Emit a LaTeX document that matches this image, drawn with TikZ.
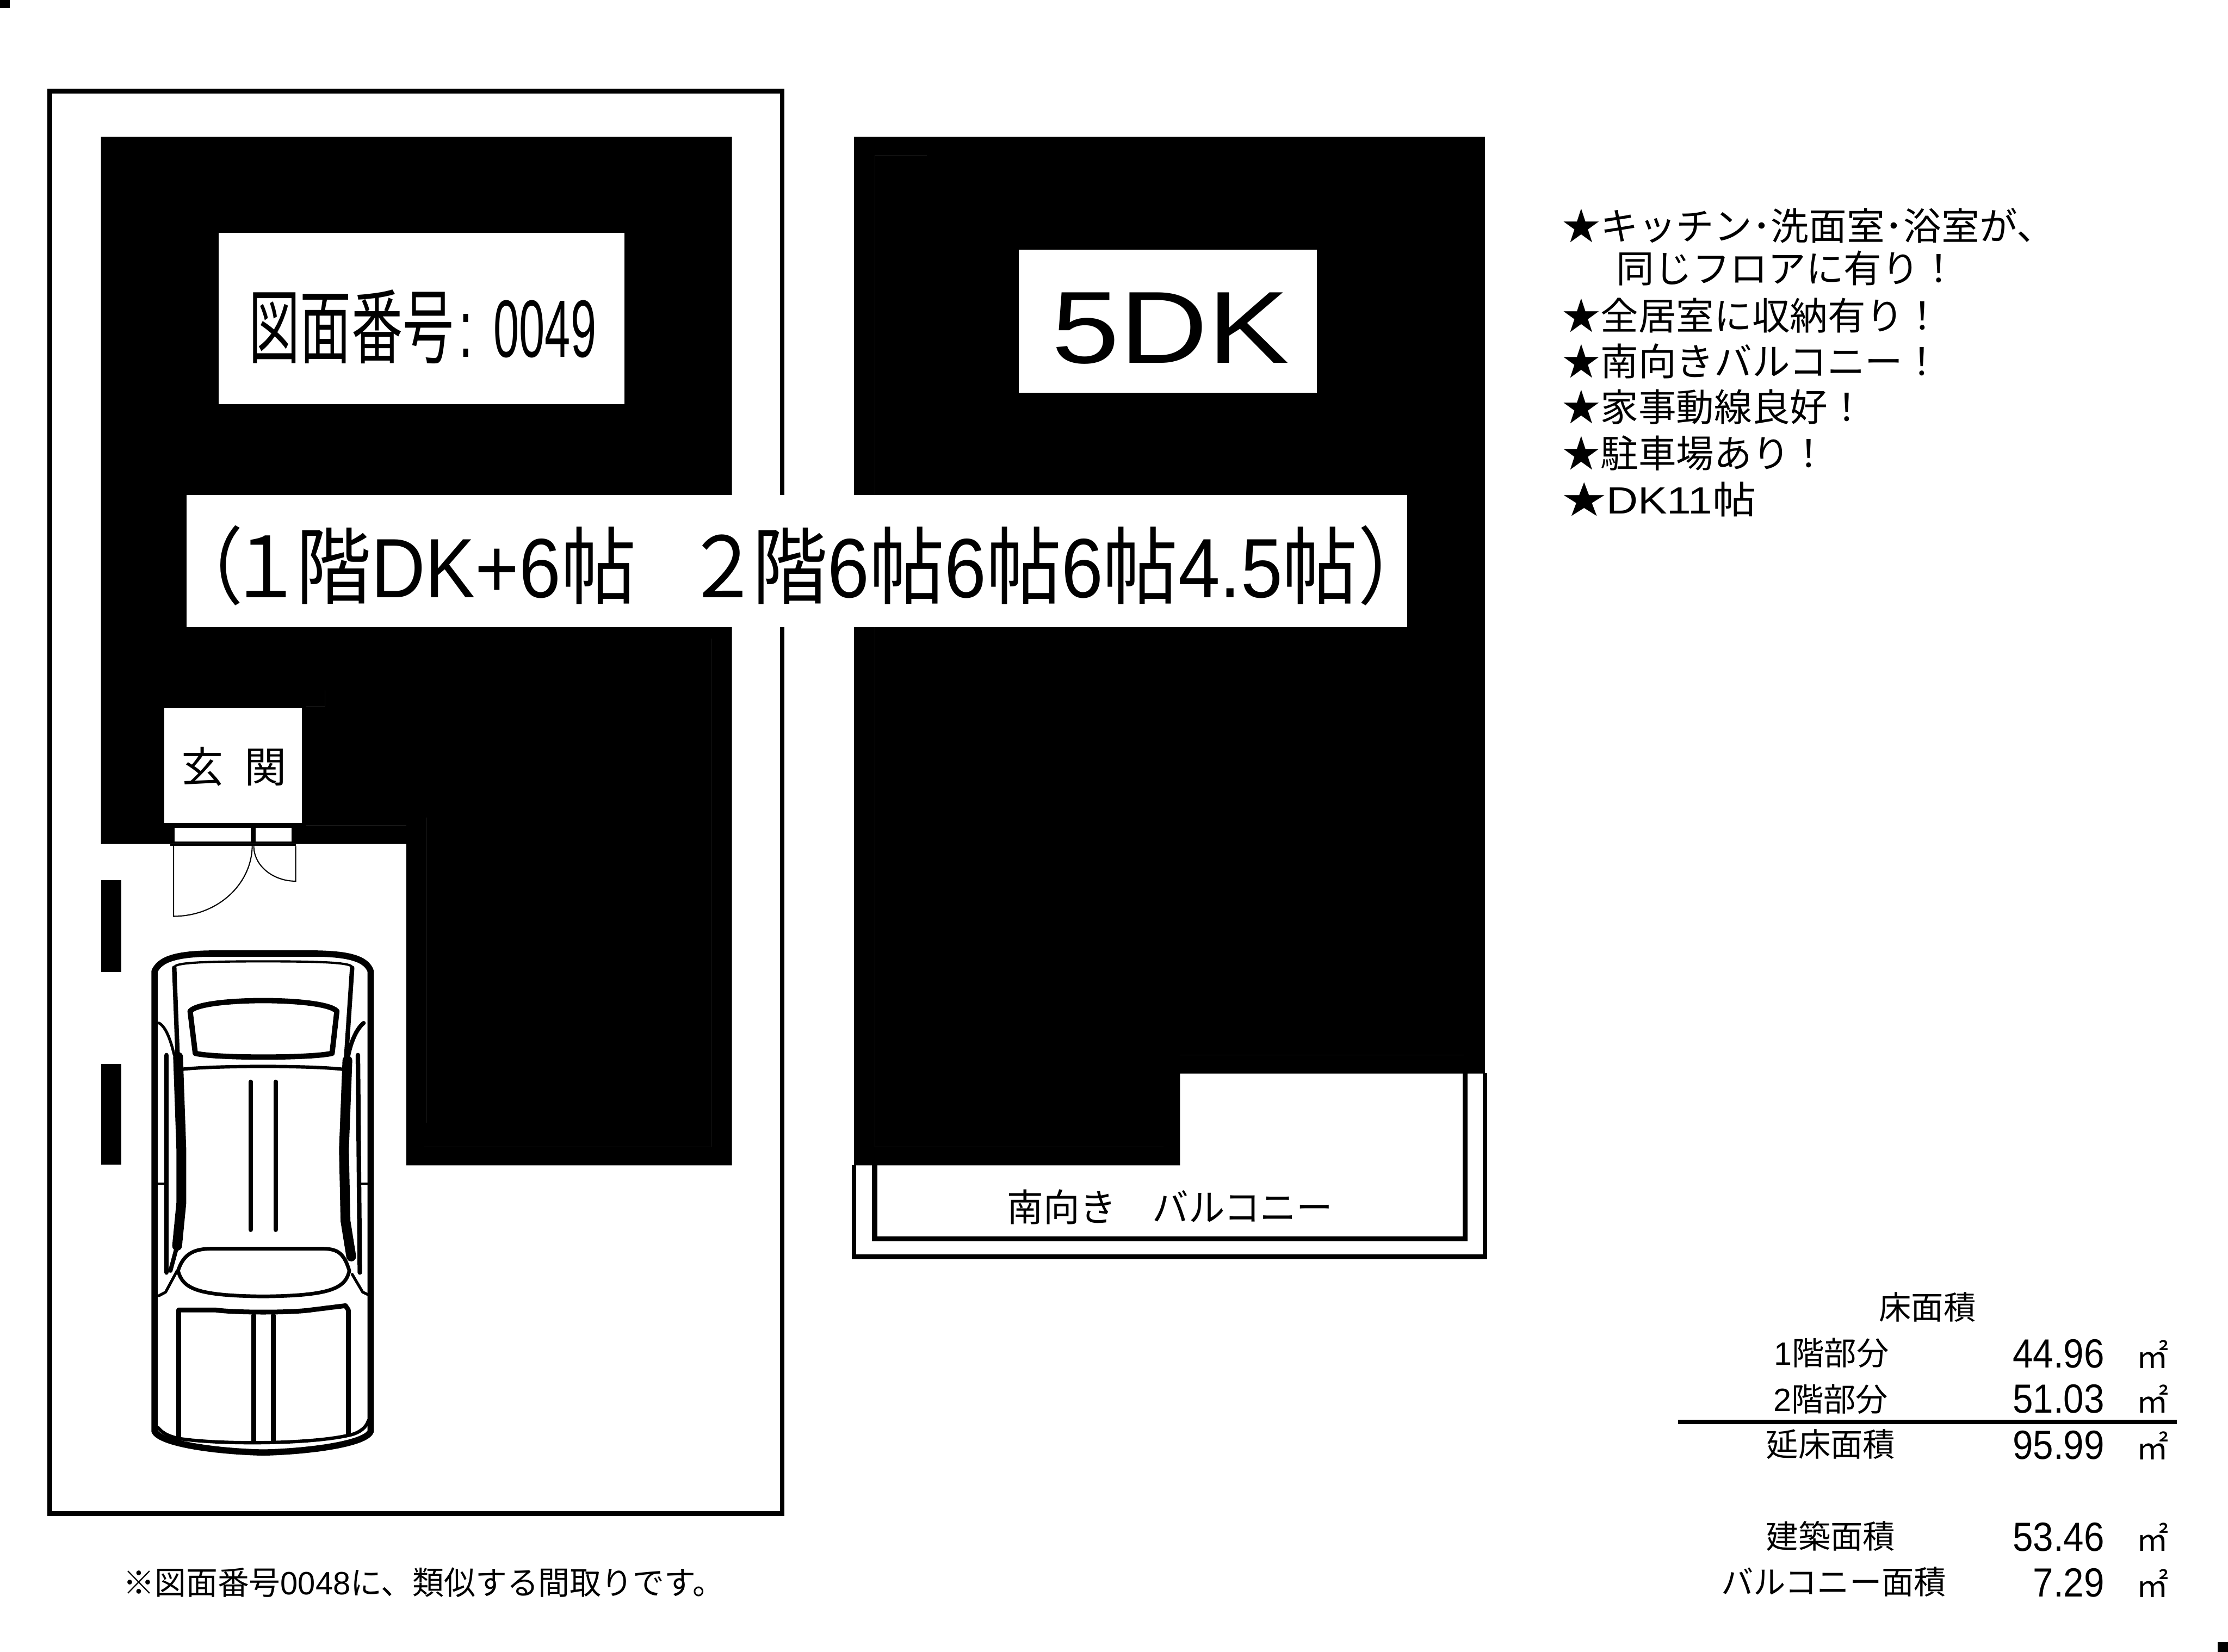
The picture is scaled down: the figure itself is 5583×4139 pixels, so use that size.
\documentclass[tikz,border=0pt]{standalone}
\usepackage{graphicx}
\usepackage{fontspec}
\setmainfont{Liberation Sans}
\newfontfamily\jpfont{Noto Sans CJK JP}
\usetikzlibrary{positioning}
\newcommand{\jp}[1]{{\jpfont #1}}
\newcommand{\fitw}[2]{\resizebox{#1}{\height}{#2}}
\newcommand{\areaval}[1]{\scalebox{0.9}[1]{#1}}

\begin{document}
\begin{tikzpicture}[
    x=0.01cm, y=-0.01cm,
    wall/.style={fill=black},
    hairline/.style={draw=black!90, line width=0.2pt},
    whitebox/.style={rectangle, fill=white, inner sep=0pt, minimum width=#1},
    doorline/.style={draw=black, line width=0.8pt},
    outline/.style={draw=black, line width=3.4pt},
    carline/.style={draw=black, line width=#1pt, line cap=round, line join=round},
    carline/.default=4.5,
    label/.style={inner sep=0pt, anchor=base west, font=\fontsize{#1}{#1}\selectfont},
    note/.style={label=27},
    arealabel/.style={label=23},
    areavalue/.style={inner sep=0pt, anchor=base east, font=\fontsize{29}{29}\selectfont},
    areaunit/.style={inner sep=0pt, anchor=base west, font=\fontsize{23}{23}\selectfont\jpfont},
]
\useasboundingbox (0,0) rectangle (5583,4139);

% Corner marks
\fill[wall] (0,0) rectangle (24,21);
\fill[wall] (5557,4115) rectangle (5583,4139);

% Site outline
\draw[outline] (125,228) rectangle (1960,3793);

% First floor block
\fill[wall] (253,343) -- (1834,343) -- (1834,2920) -- (1018,2920) -- (1018,2115) -- (253,2115) -- cycle;
\fill[wall] (253,2206) rectangle (304,2436);
\fill[wall] (253,2666) rectangle (304,2918);
\draw[hairline] (768,1769) -- (814,1769) -- (814,1730);
\draw[hairline] (768,2068) -- (1018,2068);
\draw[hairline] (1069,2048) -- (1069,2813);
\draw[hairline] (1062,2874) -- (1782,2874) -- (1782,1600);

% Second floor block
\fill[wall] (2140,343) -- (3721,343) -- (3721,2690) -- (2957,2690) -- (2957,2920) -- (2140,2920) -- cycle;
\draw[hairline] (2323,389) -- (2192,389) -- (2192,2874) -- (2916,2874);
\draw[hairline] (2957,2643) -- (3669,2643);

% Balcony
\fill[wall] (2134,2919) rectangle (2145,3156);
\fill[wall] (2134,3143) rectangle (3727,3156);
\fill[wall] (3716,2689) rectangle (3727,3156);
\fill[wall] (2185,2919) rectangle (2198,3110);
\fill[wall] (2185,3098) rectangle (3677,3110);
\fill[wall] (3665,2689) rectangle (3677,3110);
\node[label=27, anchor=base] (balcony) at (2932,3060) {\fitw{8.15cm}{\jp{南向き　バルコニー}}};

% Entrance
\node[whitebox=3.45cm, minimum height=2.87cm] (entrance) at (584.5,1918.5) {};
\node[label=30, anchor=base] (entrancetext) at (586,1961) {\jp{玄\hspace{0.5em}関}};
\fill[white] (437,2074) rectangle (629,2108);
\fill[white] (641,2074) rectangle (731,2108);
\fill[wall] (426,2115) rectangle (742,2120);
\draw[doorline] (435,2118) -- (435,2296) .. controls (545,2296) and (632,2215) .. (632,2118);
\draw[doorline] (741,2120) -- (741,2208) .. controls (685,2208) and (636,2170) .. (636,2120);

% Car
\begin{scope}[shift={(300,2300)}, x=0.004785cm, y=-0.00893cm]
\draw[carline] (182,1440) -- (182,150) .. controls (210,115) and (300,100) .. (500,100) -- (1000,100) .. controls (1200,100) and (1290,115) .. (1312,150) -- (1312,1440) .. controls (1290,1475) and (1000,1497) .. (750,1500) .. controls (500,1497) and (210,1475) .. (182,1440);
\draw[carline=1.6] (290,135) .. controls (320,124) and (500,122) .. (750,122) .. controls (1000,122) and (1180,124) .. (1210,135);
\draw[carline=3.2] (285,140) -- (305,420);
\draw[carline=3.2] (1215,140) -- (1180,420);
\draw[carline=3.8] (368,262) .. controls (400,240) and (600,232) .. (750,232) .. controls (900,232) and (1100,240) .. (1135,262) -- (1110,380) .. controls (1000,394) and (500,394) .. (395,380) -- cycle;
\draw[carline=2.4] (320,425) .. controls (500,414) and (1000,414) .. (1170,425);
\draw[carline=7] (305,390) -- (322,650) -- (322,800) -- (300,920);
\draw[carline=7] (1190,400) -- (1172,650) -- (1180,850) -- (1210,950);
\draw[carline=3] (300,920) -- (265,990);
\draw[carline=3.2] (245,385) -- (245,995);
\draw[carline=3.2] (1245,385) -- (1255,995);
\draw[carline=2] (205,295) .. controls (240,305) and (265,340) .. (285,385);
\draw[carline=3] (1275,295) .. controls (1240,310) and (1210,345) .. (1195,385);
\draw[carline=1.6] (200,745) -- (240,745);
\draw[carline=1.6] (1255,745) -- (1305,745);
\draw[carline=3.2] (685,460) -- (685,875);
\draw[carline=3.2] (816,460) -- (816,875);
\draw[carline=2.6] (305,990) .. controls (340,930) and (420,928) .. (500,928) -- (1050,928) .. controls (1130,928) and (1170,935) .. (1200,990) .. controls (1180,1040) and (1100,1060) .. (750,1062) .. controls (400,1060) and (330,1040) .. (305,990) -- cycle;
\draw[carline=2] (205,1060) -- (240,1050) -- (300,990);
\draw[carline=2] (1310,1060) -- (1270,1050) -- (1215,1000);
\draw[carline=3.4] (308,1455) -- (308,1100) -- (500,1100) .. controls (600,1108) and (900,1108) .. (1000,1100) -- (1180,1088) -- (1195,1100) -- (1195,1450);
\draw[carline=3.4] (700,1115) -- (700,1470);
\draw[carline=3.4] (803,1115) -- (803,1470);
\draw[carline=2.4] (200,1430) .. controls (230,1450) and (270,1455) .. (300,1460) .. controls (500,1478) and (1000,1478) .. (1210,1450) .. controls (1250,1445) and (1290,1430) .. (1300,1410);
\end{scope}

% Plan number
\node[whitebox=10.16cm, minimum height=4.29cm] (planbox) at (1056,797.5) {};
\node[label=58, anchor=base] (plantext) at (1059,895) {\fitw{8.7cm}{\jp{図面番号}\hspace{0.1em}:\hspace{0.4em}\scalebox{0.9}[1]{0049}}};

% Layout type
\node[whitebox=7.46cm, minimum height=3.58cm] (typebox) at (2926,805) {};
\node[label=73, anchor=base] (typetext) at (2933,910) {\fitw{5.95cm}{5DK}};

% Room band
\node[whitebox=30.57cm, minimum height=3.3cm] (roomband) at (1996.5,1406) {};
\node[label=60, anchor=base] (roomtext) at (2006,1497) {\fitw{31.67cm}{\jp{（}\hspace{-0.2em}\jp{１}\hspace{-0.1em}\jp{階}DK+6\jp{帖}\hspace{0.65em}\jp{２}\hspace{-0.1em}\jp{階}6\jp{帖}6\jp{帖}6\jp{帖}4.5\jp{帖）}}};

% Notes
\node[note] (note1) at (3915,602) {\jp{★キッチン･洗面室･浴室が、}};
\node[note] (note1b) at (4050,708) {\jp{同じフロアに有り！}};
\node[note] (note2) at (3915,826) {\jp{★全居室に収納有り！}};
\node[note] (note3) at (3915,941) {\jp{★南向きバルコニー！}};
\node[note] (note4) at (3915,1056) {\jp{★家事動線良好！}};
\node[note] (note5) at (3915,1172) {\jp{★駐車場あり！}};
\node[note] (note6) at (3915,1287) {\fitw{4.85cm}{\jp{★}DK11\jp{帖}}};

% Footnote
\node[label=23] (footnote) at (308,3996) {\fitw{15.05cm}{\jp{※図面番号}0048\jp{に、類似する間取りです。}}};

% Floor areas
\node[arealabel] (areahead) at (4708,3306) {\jp{床面積}};
\node[arealabel] (floor1) at (4445,3421) {1\jp{階部分}};
\node[areavalue] (floor1val) at (5274,3427) {\areaval{44.96}};
\node[areaunit] (floor1unit) at (5352,3429) {㎡};
\node[arealabel] (floor2) at (4443,3536) {2\jp{階部分}};
\node[areavalue] (floor2val) at (5274,3541) {\areaval{51.03}};
\node[areaunit] (floor2unit) at (5352,3541) {㎡};
\fill[wall] (4205,3558) rectangle (5455,3569);
\node[arealabel] (total) at (4425,3650) {\jp{延床面積}};
\node[areavalue] (totalval) at (5274,3656) {\areaval{95.99}};
\node[areaunit] (totalunit) at (5352,3657) {㎡};
\node[arealabel] (building) at (4425,3880) {\jp{建築面積}};
\node[areavalue] (buildingval) at (5274,3886) {\areaval{53.46}};
\node[areaunit] (buildingunit) at (5352,3887) {㎡};
\node[arealabel] (balconyarea) at (4312,3995) {\jp{バルコニー面積}};
\node[areavalue] (balconyval) at (5274,4001) {\areaval{7.29}};
\node[areaunit] (balconyunit) at (5352,4002) {㎡};

\end{tikzpicture}
\end{document}
